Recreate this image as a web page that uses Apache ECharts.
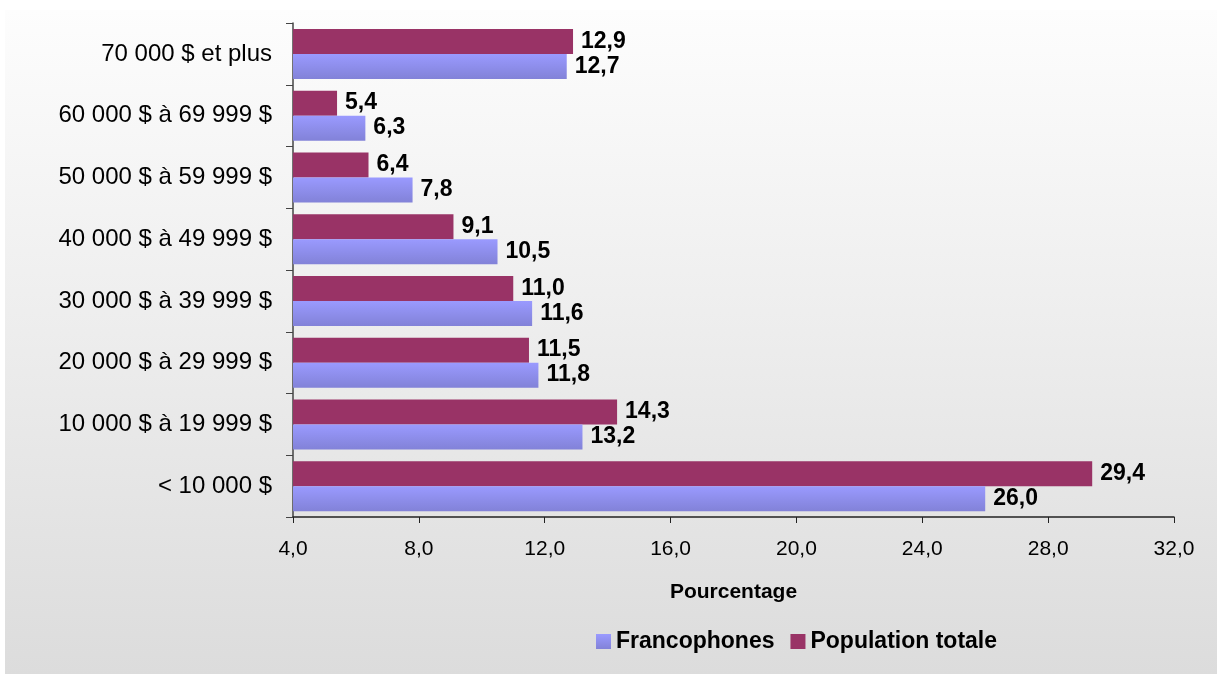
<!DOCTYPE html>
<html>
<head>
<meta charset="utf-8">
<script src="https://cdn.jsdelivr.net/npm/echarts@6/dist/echarts.min.js"></script>
<style>
  html, body { margin: 0; padding: 0; background: #fff; }
  #chart { width: 1217px; height: 674px; }
</style>
</head>
<body>
<div id="chart"></div>
<script>
// catégories de revenu (de bas en haut)
const categories = [
  "< 10 000 $",
  "10 000 $ à 19 999 $",
  "20 000 $ à 29 999 $",
  "30 000 $ à 39 999 $",
  "40 000 $ à 49 999 $",
  "50 000 $ à 59 999 $",
  "60 000 $ à 69 999 $",
  "70 000 $ et plus"
];
const francophones = [26.0, 13.2, 11.8, 11.6, 10.5, 7.8, 6.3, 12.7];
const populationTotale = [29.4, 14.3, 11.5, 11.0, 9.1, 6.4, 5.4, 12.9];
const xTicks = [4, 8, 12, 16, 20, 24, 28, 32];

const chart = echarts.init(document.getElementById("chart"));
const fmt = (v) => Number(v).toFixed(1).replace(".", ",");
const font = "Liberation Sans, Arial, sans-serif";

const labelStyle = {
  show: true,
  position: "right",
  distance: 8,
  color: "#000",
  fontFamily: font,
  fontWeight: "bold",
  fontSize: 23,
  formatter: (p) => fmt(p.value)
};

chart.setOption({
  animation: false,
  graphic: [{
    type: "rect",
    z: -10,
    silent: true,
    shape: { x: 5, y: 10, width: 1212, height: 664 },
    style: {
      fill: new echarts.graphic.LinearGradient(0, 0, 0, 1, [
        { offset: 0, color: "#fdfdfd" },
        { offset: 1, color: "#dcdcdc" }
      ])
    }
  }],
  legend: {
    data: ["Francophones", "Population totale"],
    bottom: 16,
    left: 591,
    itemWidth: 15,
    itemHeight: 15,
    itemGap: 16,
    icon: "rect",
    textStyle: { fontFamily: font, fontWeight: "bold", fontSize: 23, color: "#000" }
  },
  grid: { left: 293, right: 43, top: 23, bottom: 157, containLabel: false },
  xAxis: {
    type: "value",
    min: xTicks[0],
    max: xTicks[xTicks.length - 1],
    interval: 4,
    name: "Pourcentage",
    nameLocation: "middle",
    nameGap: 65,
    nameTextStyle: { fontFamily: font, fontWeight: "bold", fontSize: 21, color: "#000" },
    axisLine: { show: true, lineStyle: { color: "#222", width: 1.5 } },
    axisTick: { show: true, length: 6, lineStyle: { color: "#222" } },
    axisLabel: { fontFamily: font, fontSize: 21, color: "#000", margin: 22, formatter: fmt },
    splitLine: { show: false }
  },
  yAxis: {
    type: "category",
    data: categories,
    axisLine: { show: true, lineStyle: { color: "#444", width: 1.5 } },
    axisTick: { show: true, length: 7, lineStyle: { color: "#444" } },
    axisLabel: { fontFamily: font, fontSize: 24, color: "#000", margin: 21 }
  },
  series: [
    {
      name: "Population totale",
      type: "bar",
      data: populationTotale,
      barWidth: 25,
      barGap: "0%",
      itemStyle: { color: "#993366" },
      label: labelStyle
    },
    {
      name: "Francophones",
      type: "bar",
      data: francophones,
      barWidth: 25,
      barGap: "0%",
      itemStyle: {
        color: new echarts.graphic.LinearGradient(0, 0, 0, 1, [
          { offset: 0, color: "#9a9aff" },
          { offset: 1, color: "#8282d8" }
        ])
      },
      label: labelStyle
    }
  ]
});
</script>
</body>
</html>
